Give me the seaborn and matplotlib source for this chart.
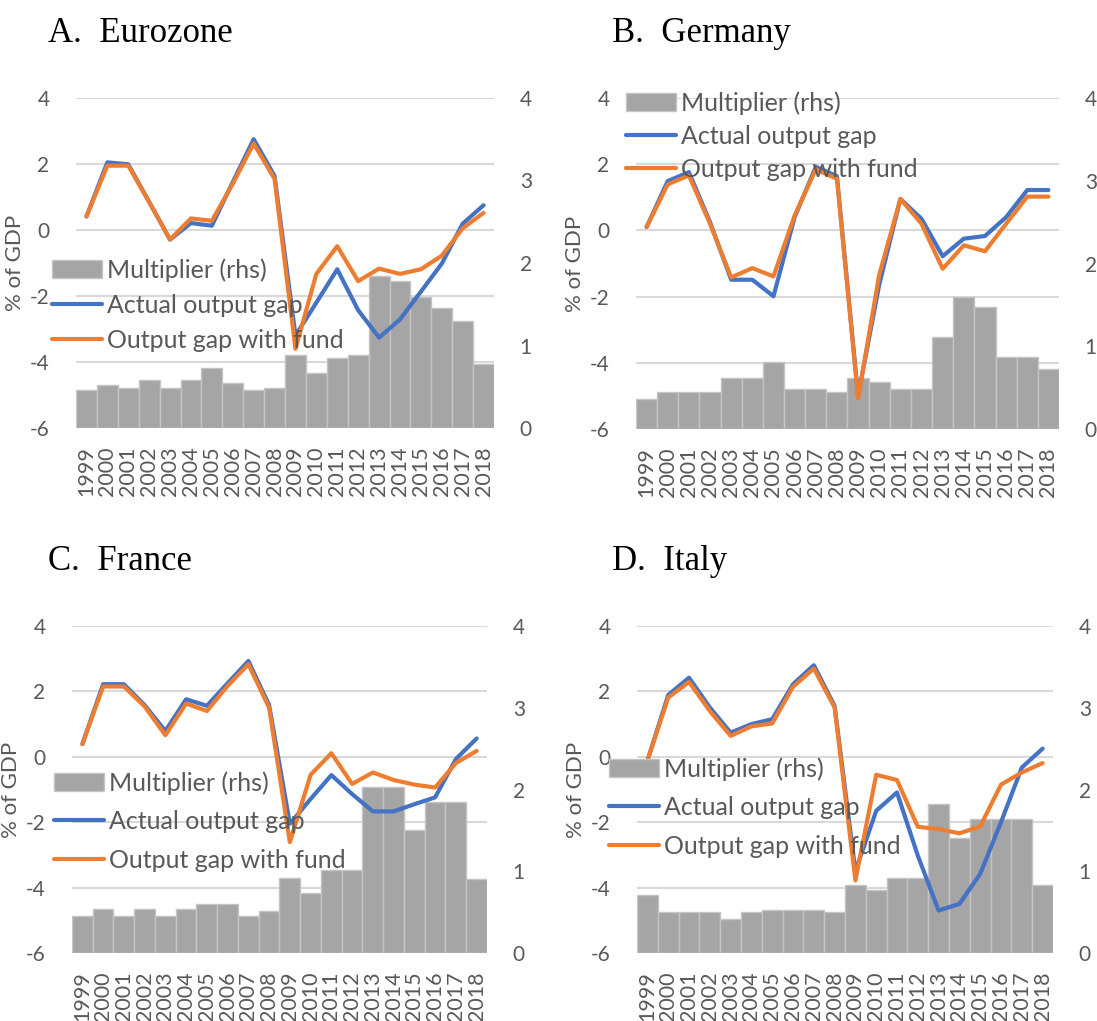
import numpy as np
import pandas as pd
import seaborn as sns
import matplotlib.pyplot as plt
from matplotlib.patches import Patch

# Years on the x axis
years = [1999, 2000, 2001, 2002, 2003, 2004, 2005, 2006, 2007, 2008,
         2009, 2010, 2011, 2012, 2013, 2014, 2015, 2016, 2017, 2018]

# A. Eurozone
euro_mult = [0.46, 0.52, 0.49, 0.58, 0.49, 0.58, 0.73, 0.55, 0.46, 0.49,
             0.88, 0.67, 0.85, 0.88, 1.84, 1.78, 1.59, 1.45, 1.30, 0.78]
euro_actual = [0.41, 2.05, 1.99, 0.85, -0.29, 0.21, 0.13, 1.45, 2.75, 1.64,
               -3.2, -2.2, -1.19, -2.43, -3.26, -2.71, -1.87, -1.02, 0.19, 0.75]
euro_fund = [0.41, 1.95, 1.95, 0.85, -0.29, 0.35, 0.28, 1.40, 2.62, 1.55,
             -3.6, -1.33, -0.49, -1.55, -1.17, -1.33, -1.19, -0.78, 0.05, 0.52]

# B. Germany
ger_mult = [0.36, 0.45, 0.45, 0.45, 0.62, 0.62, 0.81, 0.48, 0.48, 0.45,
            0.62, 0.57, 0.48, 0.48, 1.11, 1.59, 1.47, 0.87, 0.87, 0.73]
ger_actual = [0.10, 1.49, 1.76, 0.25, -1.49, -1.49, -1.99, 0.40, 1.92, 1.64,
              -5.0, -1.64, 0.95, 0.35, -0.78, -0.25, -0.17, 0.40, 1.22, 1.22]
ger_fund = [0.10, 1.39, 1.66, 0.20, -1.42, -1.14, -1.39, 0.45, 1.84, 1.56,
            -5.07, -1.34, 0.95, 0.20, -1.16, -0.45, -0.63, 0.20, 1.02, 1.02]

# C. France
fra_mult = [0.45, 0.54, 0.45, 0.54, 0.45, 0.54, 0.60, 0.60, 0.45, 0.51,
            0.92, 0.74, 1.01, 1.01, 2.03, 2.03, 1.50, 1.85, 1.85, 0.90]
fra_actual = [0.39, 2.22, 2.22, 1.58, 0.79, 1.76, 1.56, 2.25, 2.93, 1.58,
              -2.05, -1.29, -0.56, -1.14, -1.67, -1.67, -1.45, -1.24, -0.07, 0.56]
fra_fund = [0.39, 2.15, 2.15, 1.54, 0.66, 1.63, 1.40, 2.17, 2.83, 1.50,
            -2.61, -0.55, 0.11, -0.83, -0.48, -0.71, -0.85, -0.94, -0.19, 0.18]

# D. Italy
ita_mult = [0.71, 0.50, 0.50, 0.50, 0.42, 0.50, 0.53, 0.53, 0.53, 0.50,
            0.83, 0.77, 0.92, 0.92, 1.82, 1.41, 1.64, 1.64, 1.64, 0.83]
ita_actual = [-0.12, 1.89, 2.42, 1.51, 0.74, 1.00, 1.15, 2.22, 2.80, 1.56,
              -3.5, -1.65, -1.09, -3.02, -4.70, -4.50, -3.58, -2.00, -0.33, 0.25]
ita_fund = [-0.12, 1.81, 2.29, 1.40, 0.64, 0.93, 1.02, 2.14, 2.70, 1.51,
            -3.78, -0.55, -0.71, -2.14, -2.21, -2.34, -2.13, -0.85, -0.48, -0.19]

titles = ["A.  Eurozone", "B.  Germany", "C.  France", "D.  Italy"]
series = [(euro_mult, euro_actual, euro_fund),
          (ger_mult, ger_actual, ger_fund),
          (fra_mult, fra_actual, fra_fund),
          (ita_mult, ita_actual, ita_fund)]

# layout in pixels: axes (left, top, right, bottom), title (x, baseline), legend (x, top)
boxes = [(76, 98, 494, 428), (636, 98, 1059, 429),
         (72, 626, 487, 953), (637, 626, 1053, 953)]
title_pos = [(48, 42), (612, 42), (48, 570), (612, 570)]
legend_pos = [(52, 258), (626, 91), (54, 771), (609, 757)]
legend_spacing = [0.48, 0.4, 0.62, 0.62]

W, H = 1097, 1021
bar_color = "#a5a5a5"
bar_edge = "#c4c4c4"
blue = "#4472C4"
orange = "#ED7D31"
grid_color = "#d9d9d9"
text_color = "#595959"

sns.set_style("white")
plt.rcParams["font.family"] = ["Lato", "DejaVu Sans"]
plt.rcParams["axes.unicode_minus"] = False

fig = plt.figure(figsize=(W / 100, H / 100), dpi=100)

left_ticks = [-6, -4, -2, 0, 2, 4]

for i, (mult, actual, fund) in enumerate(series):
    x0, y0, x1, y1 = boxes[i]
    ax_bar = fig.add_axes([x0 / W, 1 - y1 / H, (x1 - x0) / W, (y1 - y0) / H])

    # horizontal grid of the left axis, drawn under the bars
    for t in left_ticks:
        ax_bar.axhline((t + 6) / 10 * 4, color=grid_color, lw=1.5, zorder=0)

    df = pd.DataFrame({"year": years, "mult": mult, "actual": actual, "fund": fund})
    sns.barplot(data=df, x="year", y="mult", native_scale=True, orient="x",
                width=1.0, color=bar_color, saturation=1, edgecolor=bar_edge,
                linewidth=1.0, ax=ax_bar, zorder=2)

    ax_line = ax_bar.twinx()
    sns.lineplot(data=df, x="year", y="actual", color=blue, lw=3, ax=ax_line,
                 label="Actual output gap", legend=False)
    sns.lineplot(data=df, x="year", y="fund", color=orange, lw=3, ax=ax_line,
                 label="Output gap with fund", legend=False)

    # bars: right axis (0-4)
    ax_bar.set_ylim(0, 4)
    ax_bar.set_yticks([0, 1, 2, 3, 4])
    ax_bar.yaxis.set_ticks_position("right")
    ax_bar.set_xlim(1998.5, 2018.5)
    ax_bar.set_xticks(years)
    ax_bar.set_xticklabels([str(y) for y in years], rotation=90)
    ax_bar.set_xlabel("")
    ax_bar.set_ylabel("")
    ax_bar.tick_params(axis="y", length=0, pad=18.5, labelsize=15, labelcolor=text_color)
    ax_bar.tick_params(axis="x", length=0, pad=13, labelsize=15.5, labelcolor=text_color)

    # lines: left axis (-6 to 4)
    ax_line.set_ylim(-6, 4)
    ax_line.set_yticks(left_ticks)
    ax_line.yaxis.set_ticks_position("left")
    ax_line.yaxis.set_label_position("left")
    ax_line.tick_params(axis="y", length=0, pad=19, labelsize=15, labelcolor=text_color)
    ax_line.set_xlabel("")
    ax_line.set_ylabel("% of GDP", fontsize=16, color=text_color)
    ax_line.yaxis.set_label_coords(-51 / (x1 - x0), 0.5)

    for a in (ax_bar, ax_line):
        for s in a.spines.values():
            s.set_visible(False)

    handles = [Patch(facecolor=bar_color, edgecolor=bar_edge)] + ax_line.get_lines()[:2]
    labels = ["Multiplier (rhs)", "Actual output gap", "Output gap with fund"]
    lx, ly = legend_pos[i]
    leg = ax_line.legend(handles, labels, loc="upper left",
                         bbox_to_anchor=(lx / W, 1 - ly / H),
                         bbox_transform=fig.transFigure, frameon=False,
                         fontsize=18, borderpad=0, borderaxespad=0,
                         handlelength=2.0, handleheight=0.7, handletextpad=0.2,
                         labelspacing=legend_spacing[i])
    for txt in leg.get_texts():
        txt.set_color(text_color)

    tx, ty = title_pos[i]
    fig.text(tx / W, 1 - ty / H, titles[i], fontsize=25,
             family=["Liberation Serif", "DejaVu Serif"], color="black",
             ha="left", va="baseline")

fig.savefig("out.png", dpi=100)
